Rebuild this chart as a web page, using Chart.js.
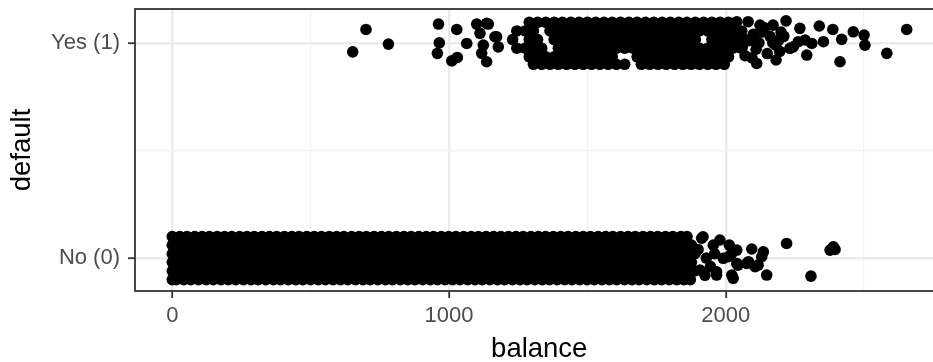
<!DOCTYPE html>
<html>
<head>
<meta charset="utf-8">
<script src="https://cdn.jsdelivr.net/npm/chart.js@4"></script>
<style>
html, body { margin: 0; padding: 0; background: #ffffff; overflow: hidden; }
#wrap { width: 950px; height: 362px; }
</style>
</head>
<body>
<div id="wrap"><canvas id="defaultChart" width="950" height="362"></canvas></div>
<script>
// axis labels
const yLabels = ['No (0)', 'Yes (1)'];
const xMajor = [0, 1000, 2000];
const xGrid = [0, 500, 1000, 1500, 2000, 2500];
const yGrid = [0, 0.5, 1];

// default = No : dense jittered band, read row by row
const noLevels = [0.1, 0.06, 0.02, -0.02, -0.06, -0.1];
const noRowA = [0, 27, 53, 81, 108, 134, 162, 189, 215, 243, 270, 296, 324, 351, 377, 405, 432, 458, 486, 513, 539, 567, 594, 620, 648, 675, 701, 729, 756, 782, 810, 837, 863, 891, 918, 944, 972, 999, 1025, 1053, 1080, 1106, 1134, 1161, 1187, 1215, 1242, 1268, 1296, 1323, 1349, 1377, 1404, 1430, 1458, 1485, 1511, 1539, 1566, 1592, 1620, 1647, 1673, 1701, 1728, 1754, 1782, 1809, 1838, 1860];
const noRowB = [0, 14, 40, 67, 95, 121, 148, 176, 202, 229, 257, 283, 310, 338, 364, 391, 419, 445, 472, 500, 526, 553, 581, 607, 634, 662, 688, 715, 743, 769, 796, 824, 850, 877, 905, 931, 958, 986, 1012, 1039, 1067, 1093, 1120, 1148, 1174, 1201, 1229, 1255, 1282, 1310, 1336, 1363, 1391, 1417, 1444, 1472, 1498, 1525, 1553, 1579, 1606, 1634, 1660, 1687, 1715, 1741, 1768, 1796, 1822, 1849, 1876];
const noRowC = [0, 26, 54, 80, 107, 135, 161, 188, 216, 242, 269, 297, 323, 350, 378, 404, 431, 459, 485, 512, 540, 566, 593, 621, 647, 674, 702, 728, 755, 783, 809, 836, 864, 890, 917, 945, 971, 998, 1026, 1052, 1079, 1107, 1133, 1160, 1188, 1214, 1241, 1269, 1295, 1322, 1350, 1376, 1403, 1431, 1457, 1484, 1512, 1538, 1565, 1593, 1619, 1646, 1674, 1700, 1727, 1755, 1781, 1808, 1836, 1862, 1889];
const noRowD = [0, 13, 41, 68, 94, 122, 149, 175, 203, 230, 256, 284, 311, 337, 365, 392, 418, 446, 473, 499, 527, 554, 580, 608, 635, 661, 689, 716, 742, 770, 797, 823, 851, 878, 904, 932, 959, 985, 1013, 1040, 1066, 1094, 1121, 1147, 1175, 1202, 1228, 1256, 1283, 1309, 1337, 1364, 1390, 1418, 1445, 1471, 1499, 1526, 1552, 1580, 1607, 1633, 1661, 1688, 1714, 1742, 1769, 1795, 1823, 1850, 1876];
const noRowE = [0, 28, 54, 81, 109, 135, 162, 190, 216, 243, 271, 297, 324, 352, 378, 405, 433, 459, 486, 514, 540, 567, 595, 621, 648, 676, 702, 729, 757, 783, 810, 838, 864, 891, 919, 945, 972, 1000, 1026, 1053, 1081, 1107, 1134, 1162, 1188, 1215, 1243, 1269, 1296, 1324, 1350, 1377, 1405, 1431, 1458, 1486, 1512, 1539, 1567, 1593, 1620, 1648, 1674, 1701, 1729, 1755, 1782, 1810, 1836, 1863, 1888];
const noRowF = [0, 14, 41, 67, 95, 122, 148, 176, 203, 229, 257, 284, 310, 338, 365, 391, 419, 446, 472, 500, 527, 553, 581, 608, 634, 662, 689, 715, 743, 770, 796, 824, 851, 877, 905, 932, 958, 986, 1013, 1039, 1067, 1094, 1120, 1148, 1175, 1201, 1229, 1256, 1282, 1310, 1337, 1363, 1391, 1418, 1444, 1472, 1499, 1525, 1553, 1580, 1606, 1634, 1661, 1687, 1715, 1742, 1768, 1796, 1823, 1849, 1872];
// No tail, single points
const noTailBalance = [1913, 1918, 1979, 2013, 2009, 1991, 2040, 2022, 2094, 2136, 2130, 2082, 2106, 2148, 2220, 1967, 2389, 2377, 2395, 2308, 2022, 2076, 2117, 2044, 2027, 1967, 2040, 1907, 1900, 1930, 1945, 1955, 1925, 1960];
const noTailValue = [0.092, 0.099, 0.084, 0.060, 0.006, -0.001, -0.025, -0.079, 0.042, 0.029, 0.006, -0.017, -0.040, -0.079, 0.068, -0.079, 0.052, 0.037, 0.040, -0.084, 0.022, -0.025, -0.033, -0.033, -0.094, -0.064, 0.037, -0.056, 0.04, 0.0, -0.04, 0.06, -0.08, 0.02];

// default = Yes : dense part by rows, gaps left where the picture has holes
const yesLevels = [1.095, 1.055, 1.015, 0.975, 0.935, 0.9];
const yesRowA = [1290, 1320, 1350, 1380, 1410, 1440, 1470, 1500, 1530, 1560, 1590, 1620, 1650, 1680, 1710, 1740, 1770, 1800, 1830, 1860, 1890, 1920, 1950, 1980, 2010];
const yesRowB = [1245, 1275, 1305, 1365, 1395, 1425, 1455, 1485, 1515, 1545, 1575, 1605, 1635, 1665, 1695, 1725, 1755, 1785, 1815, 1845, 1875, 1905, 1935, 1965, 1995, 2025, 2058];
const yesRowC = [1230, 1290, 1320, 1380, 1410, 1440, 1470, 1500, 1530, 1560, 1590, 1620, 1650, 1680, 1710, 1740, 1770, 1800, 1830, 1860, 1890, 1950, 1980, 2010, 2040, 2070, 2095];
const yesRowD = [1245, 1275, 1305, 1335, 1395, 1425, 1455, 1485, 1515, 1545, 1575, 1605, 1635, 1665, 1695, 1725, 1755, 1785, 1815, 1845, 1875, 1905, 1935, 1965, 1995, 2025, 2055];
const yesRowE = [1290, 1320, 1350, 1380, 1410, 1440, 1470, 1500, 1530, 1560, 1590, 1680, 1710, 1740, 1770, 1800, 1830, 1860, 1890, 1920, 1950, 1980, 2010];
const yesRowF = [1305, 1335, 1365, 1395, 1425, 1455, 1485, 1515, 1545, 1575, 1605, 1635, 1695, 1725, 1755, 1785, 1815, 1845, 1875, 1905, 1935, 1965, 1995];
// Yes, single points on both sides of the dense part
const yesSparseBalance = [652, 700, 781, 962, 965, 958, 1028, 1010, 1030, 1064, 1100, 1142, 1112, 1124, 1118, 1136, 1172, 1178, 1136, 1166, 2040, 2081, 2124, 2171, 2218, 2268, 2338, 2387, 2419, 2461, 2500, 2503, 2413, 2293, 2582, 2654, 2353, 2244, 2287, 2182, 2112, 2232, 2311, 2262, 2100, 2130, 2160, 2190, 2110, 2150, 2200, 2070, 2085, 2180, 2210, 2140, 2060, 2120, 2170, 2095, 2195];
const yesSparseValue = [0.958, 1.062, 0.994, 1.087, 1.0, 0.951, 1.062, 0.916, 0.932, 0.997, 1.087, 1.087, 1.044, 0.989, 0.951, 0.912, 1.028, 0.981, 1.09, 1.028, 1.098, 1.098, 1.082, 1.082, 1.102, 1.067, 1.078, 1.062, 1.016, 1.051, 1.036, 0.989, 0.912, 0.943, 0.951, 1.062, 1.005, 0.981, 1.013, 0.920, 0.904, 0.974, 0.997, 1.005, 1.04, 1.05, 1.03, 1.01, 0.97, 0.95, 1.05, 0.94, 1.01, 0.99, 1.03, 1.07, 0.98, 1.0, 1.0, 0.93, 0.96];

function rowPoints(balances, level) {
    return balances.map(b => ({ x: b, y: level }));
}
function pairPoints(balances, values) {
    return balances.map((b, i) => ({ x: b, y: values[i] }));
}

const noRows = [noRowA, noRowB, noRowC, noRowD, noRowE, noRowF];
const yesRows = [yesRowA, yesRowB, yesRowC, yesRowD, yesRowE, yesRowF];

let noData = [];
noRows.forEach((row, i) => { noData = noData.concat(rowPoints(row, noLevels[i])); });
noData = noData.concat(pairPoints(noTailBalance, noTailValue));

let yesData = [];
yesRows.forEach((row, i) => { yesData = yesData.concat(rowPoints(row, yesLevels[i])); });
yesData = yesData.concat(pairPoints(yesSparseBalance, yesSparseValue));

Chart.defaults.font.family = '"Liberation Sans", Arial, sans-serif';

const panelBorder = {
    id: 'panelBorder',
    afterDraw(chart) {
        const { ctx, chartArea: a } = chart;
        ctx.save();
        ctx.strokeStyle = '#333333';
        ctx.lineWidth = 1.8;
        ctx.strokeRect(a.left, a.top, a.right - a.left, a.bottom - a.top);
        ctx.restore();
    }
};

const isMajorX = ctx => ctx.tick && xMajor.includes(ctx.tick.value);
const isMajorY = ctx => ctx.tick && (ctx.tick.value === 0 || ctx.tick.value === 1);

const pointStyle = {
    pointRadius: 5.8,
    pointBorderWidth: 0,
    pointBackgroundColor: '#000000',
    pointHoverRadius: 5.8
};

new Chart(document.getElementById('defaultChart'), {
    type: 'scatter',
    data: {
        datasets: [
            Object.assign({ label: 'No', data: noData }, pointStyle),
            Object.assign({ label: 'Yes', data: yesData }, pointStyle)
        ]
    },
    options: {
        responsive: false,
        animation: false,
        events: [],
        layout: { padding: { top: 9, right: 6.5, left: 0, bottom: 0 } },
        plugins: { legend: { display: false }, tooltip: { enabled: false } },
        scales: {
            x: {
                type: 'linear',
                min: -134.8,
                max: 2787,
                afterBuildTicks: scale => { scale.ticks = xGrid.map(v => ({ value: v })); },
                afterFit: scale => {
                    scale.height = 71;
                    scale.paddingLeft = 0;
                    scale.paddingRight = 0;
                },
                border: { display: false },
                grid: {
                    color: ctx => isMajorX(ctx) ? '#EBEBEB' : '#F2F2F2',
                    lineWidth: ctx => isMajorX(ctx) ? 2.4 : 1.2,
                    tickColor: ctx => isMajorX(ctx) ? '#333333' : 'rgba(0,0,0,0)',
                    tickWidth: 1.8,
                    tickLength: 7
                },
                ticks: {
                    autoSkip: false,
                    maxRotation: 0,
                    padding: 5,
                    color: '#4D4D4D',
                    font: { size: 22 },
                    callback: value => xMajor.includes(value) ? String(value) : ''
                },
                title: {
                    display: true,
                    text: 'balance',
                    color: '#000000',
                    font: { size: 27.5 },
                    padding: { top: 0, bottom: -4 }
                }
            },
            y: {
                type: 'linear',
                min: -0.153,
                max: 1.157,
                afterBuildTicks: scale => { scale.ticks = yGrid.map(v => ({ value: v })); },
                afterFit: scale => {
                    scale.width = 135;
                    scale.paddingTop = 0;
                    scale.paddingBottom = 0;
                },
                border: { display: false },
                grid: {
                    color: ctx => isMajorY(ctx) ? '#EBEBEB' : '#F2F2F2',
                    lineWidth: ctx => isMajorY(ctx) ? 2.4 : 1.2,
                    tickColor: ctx => isMajorY(ctx) ? '#333333' : 'rgba(0,0,0,0)',
                    tickWidth: 1.8,
                    tickLength: 7
                },
                ticks: {
                    autoSkip: false,
                    padding: 8,
                    color: '#4D4D4D',
                    font: { size: 22 },
                    callback: value => value === 0 ? yLabels[0] : (value === 1 ? yLabels[1] : '')
                },
                title: {
                    display: true,
                    text: 'default',
                    color: '#000000',
                    font: { size: 27.5 },
                    padding: { top: 6, bottom: 0 }
                }
            }
        }
    },
    plugins: [panelBorder]
});
</script>
</body>
</html>
